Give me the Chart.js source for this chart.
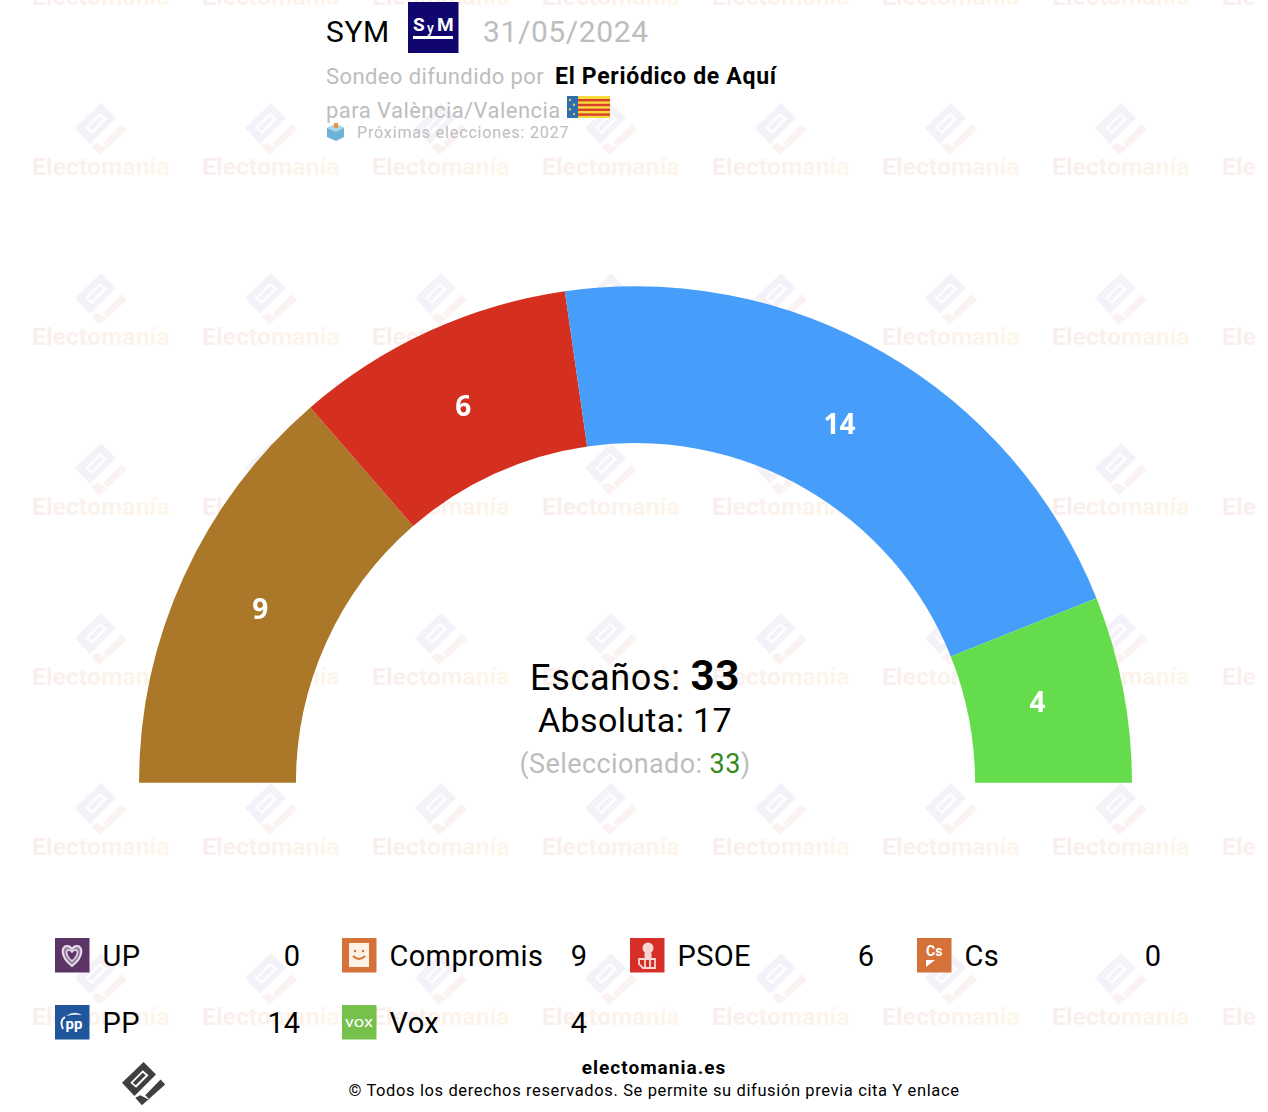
<!DOCTYPE html>
<html>
<head>
<meta charset="utf-8">
<title>SYM 31/05/2024</title>
<script src="https://cdn.jsdelivr.net/npm/chart.js@4"></script>
<style>
  html, body { margin: 0; padding: 0; background: #fff; }
  body { width: 1268px; height: 1112px; position: relative; overflow: hidden; font-family: Roboto, sans-serif; }
  #page { position: absolute; left: 0; top: 0; }
  #wrap { position: absolute; left: 139px; top: 286px; width: 993px; height: 497px; }
  .grey { fill: #bdbdbd; }
</style>
</head>
<body>
<svg id="page" width="1268" height="1112" xmlns="http://www.w3.org/2000/svg"></svg>
<div id="wrap"><canvas id="chart" width="993" height="497"></canvas></div>
<script>
// Datos del sondeo
const parties = ['UP', 'Compromis', 'PSOE', 'Cs', 'PP', 'Vox'];
const seats = [0, 9, 6, 0, 14, 4];
const colors = ['#5a3566', '#ab7728', '#d52f1f', '#d4723a', '#469efa', '#64dc4c'];
const iconColors = ['#5c3566', '#d4723a', '#d52f27', '#d4723a', '#20569b', '#76c04c'];
const totalSeats = 33;
const majority = 17;
const selected = 33;

const svg = document.getElementById('page');
let out = '';

// Marca de agua
const logo = (dx, dy, k, a, b, slot) => `<g transform="translate(${dx} ${dy}) scale(${k})">
  <path fill="${a}" d="M26 0 L41 15 L15 41 L0 25 Z"/>
  <path fill="${slot}" d="M10 25 L25 10 L32 16 L17 31 Z"/>
  <path fill="${a}" d="M13 25 L25 13 L28.500 16 L16.500 28 Z"/>
  <path fill="${b}" d="M52 27 L46.500 21 L28 40 L34 46 L22 40 L16 43 L24 52 Z"/>
</g>`;

out += `<defs><linearGradient id="wm" x1="0" x2="1" y1="0" y2="0">
  <stop offset="0" stop-color="#f9eeee"/><stop offset="1" stop-color="#fdf6ea"/></linearGradient>
  <clipPath id="wmClip"><rect x="0" y="0" width="1256" height="1112"/></clipPath></defs>`;
out += `<g clip-path="url(#wmClip)">`;
for (let row = 0; row < 7; row++) {
  for (let col = 0; col < 8; col++) {
    const x = 32 + col * 170;
    const y = 5 + row * 170;
    out += logo(x + 43, y - 72, 1, '#f5f1f8', '#faf3f1', '#ffffff');
    out += `<text x="${x}" y="${y}" font-size="24.800" font-weight="700" fill="url(#wm)">Electomanía</text>`;
  }
}
out += `</g>`;

// Cabecera
out += `<text x="326" y="42" font-size="30" letter-spacing="0.600" fill="#000">SYM</text>`;
out += `<rect x="408" y="2" width="50.500" height="51" fill="#10066e"/>`;
out += `<text x="413" y="31" font-size="19" font-weight="700" fill="#fff">S</text>`;
out += `<text x="427" y="33" font-size="14" font-weight="500" fill="#fff">y</text>`;
out += `<text x="437" y="31" font-size="19" font-weight="700" fill="#fff">M</text>`;
out += `<rect x="413" y="36" width="40" height="3" fill="#fff"/>`;
out += `<text x="483" y="42" font-size="30" letter-spacing="0.600" class="grey">31/05/2024</text>`;
out += `<text x="326" y="84" font-size="22" letter-spacing="0.400" class="grey">Sondeo difundido por</text>`;
out += `<text x="555" y="84" font-size="23" letter-spacing="0.700" font-weight="700" fill="#000">El Periódico de Aquí</text>`;
out += `<text x="326" y="118" font-size="22" letter-spacing="0.450" class="grey">para València/Valencia</text>`;
// Bandera
out += `<rect x="567" y="96" width="43" height="22" fill="#f7d93c"/>`;
for (let i = 0; i < 4; i++) out += `<rect x="578" y="${99 + i * 4.800}" width="32" height="2.400" fill="#d8402c"/>`;
out += `<rect x="567" y="96" width="11" height="22" fill="#2f6eb0"/>`;
for (let i = 0; i < 4; i++) out += `<circle cx="${570 + (i % 2) * 4}" cy="${100 + i * 4.700}" r="1.200" fill="#e8c84a"/>`;
// Urna
out += `<path d="M327 128 L336 124 L344 128 L344 137 L336 141 L327 137 Z" fill="#6db3d8"/>`;
out += `<path d="M327 128 L336 132 L344 128 L336 124 Z" fill="#a9d6ec"/>`;
out += `<rect x="334" y="123" width="4" height="5" fill="#e8963c"/>`;
out += `<text x="357" y="138" font-size="16" letter-spacing="0.850" class="grey">Próximas elecciones: 2027</text>`;

// Centro
out += `<text x="635" y="690" text-anchor="middle" font-size="36" letter-spacing="0.700" fill="#000">Escaños: <tspan font-size="42" font-weight="700">${totalSeats}</tspan></text>`;
out += `<text x="635" y="732" text-anchor="middle" font-size="34" letter-spacing="0.350" fill="#000">Absoluta: ${majority}</text>`;
out += `<text x="635" y="773" text-anchor="middle" font-size="27" letter-spacing="0.400" class="grey">(Seleccionado: <tspan fill="#358a22">${selected}</tspan>)</text>`;

// Iconos de la leyenda
const glyphs = [
  `<path d="M17 28 C5 19 6 8 12 8 C15 8 17 11 17 11 C17 11 19 8 22 8 C28 8 29 19 17 28 Z" fill="#9a7fa3" stroke="#e9dfea" stroke-width="2"/><path d="M17 23 C10 17 11 12 13.500 12 C15.500 12 17 14 17 14 C17 14 18.500 12 20.500 12 C23 12 24 17 17 23 Z" fill="#5c3566" stroke="#e9dfea" stroke-width="1.500"/>`,
  `<rect x="7" y="5" width="20" height="24" fill="#fdf0e4"/><circle cx="13" cy="13" r="1.200" fill="#d4723a"/><circle cx="21" cy="13" r="1.200" fill="#d4723a"/><path d="M11 18 Q17 24 23 18" fill="none" stroke="#d4723a" stroke-width="2"/>`,
  `<circle cx="18" cy="10" r="5.500" fill="#f6d5d3"/><rect x="14.500" y="15" width="7" height="6" fill="#f6d5d3"/><path d="M9 21 L25 21 L25 30 L13 30 L9 26 Z M15 21 L15 30 M20 21 L20 30" fill="none" stroke="#f6d5d3" stroke-width="1.800"/>`,
  `<text x="9" y="18" font-size="14" font-weight="700" fill="#fff">Cs</text><path d="M9 22 L18 22 L9 29 Z" fill="#fff"/>`,
  `<path d="M8 24 Q4 16 10 12" fill="none" stroke="#fff" stroke-width="1.800"/><path d="M11 11 Q19 5 27 10 Q19 9 11 11 Z" fill="#dfe9f5"/><text x="19" y="24" text-anchor="middle" font-size="15" font-weight="700" fill="#fff">pp</text>`,
  `<text x="17" y="22" text-anchor="middle" font-size="15" textLength="28" lengthAdjust="spacingAndGlyphs" fill="#fff">vox</text>`
];

// Leyenda
const legendX = [55, 342, 630, 917];
const valueX = [300, 587, 874, 1161];
const legendY = [938, 1005];
parties.forEach((p, i) => {
  const col = i % 4;
  const ly = legendY[Math.floor(i / 4)];
  out += `<g transform="translate(${legendX[col]} ${ly})"><rect width="34.500" height="34.500" fill="${iconColors[i]}"/>${glyphs[i]}</g>`;
  out += `<text x="${legendX[col] + 47.5}" y="${ly + 28}" font-size="29" letter-spacing="0.350" fill="#000">${p}</text>`;
  out += `<text x="${valueX[col]}" y="${ly + 28}" text-anchor="end" font-size="29" fill="#000">${seats[i]}</text>`;
});

// Pie
out += logo(122, 1062, 0.830, '#3f3f3f', '#3f3f3f', '#ffffff');
out += `<text x="654" y="1074" text-anchor="middle" font-size="19" letter-spacing="1" font-weight="700" fill="#000">electomania.es</text>`;
out += `<text x="654" y="1096" text-anchor="middle" font-size="16.500" letter-spacing="0.620" fill="#000">© Todos los derechos reservados. Se permite su difusión previa cita Y enlace</text>`;
svg.innerHTML = out;

// Números dentro de cada sector
const seatLabels = {
  id: 'seatLabels',
  afterDatasetsDraw(chart) {
    const { ctx } = chart;
    const meta = chart.getDatasetMeta(0);
    ctx.save();
    ctx.font = '700 28px "Open Sans", Roboto, sans-serif';
    ctx.fillStyle = '#fff';
    ctx.textAlign = 'center';
    ctx.textBaseline = 'middle';
    meta.data.forEach((arc, i) => {
      if (!seats[i]) return;
      const mid = (arc.startAngle + arc.endAngle) / 2;
      const r = 411;
      ctx.fillText(String(seats[i]), arc.x + Math.cos(mid) * r - 1.5, arc.y + Math.sin(mid) * r - 0.5);
    });
    ctx.restore();
  }
};

new Chart(document.getElementById('chart').getContext('2d'), {
  type: 'doughnut',
  data: {
    labels: parties,
    datasets: [{ data: seats, backgroundColor: colors, borderWidth: 0 }]
  },
  options: {
    responsive: false,
    animation: false,
    rotation: -90,
    circumference: 180,
    cutout: '68.4%',
    layout: { padding: 0 },
    plugins: { legend: { display: false }, tooltip: { enabled: false } }
  },
  plugins: [seatLabels]
});
</script>
</body>
</html>
